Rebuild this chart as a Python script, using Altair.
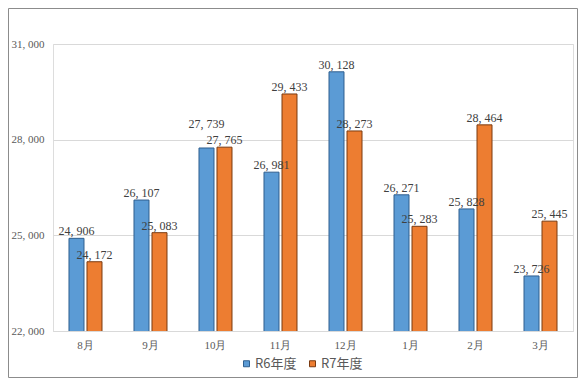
import altair as alt
import pandas as pd

months = ["8月", "9月", "10月", "11月", "12月", "1月", "2月", "3月"]
r6 = [24906, 26107, 27739, 26981, 30128, 26271, 25828, 23726]
r7 = [24172, 25083, 27765, 29433, 28273, 25283, 28464, 25445]
series = ["R6年度", "R7年度"]
y_ticks = [22000, 25000, 28000, 31000]

rows = []
for m, a, b in zip(months, r6, r7):
    rows.append({"month": m, "series": series[0], "value": a})
    rows.append({"month": m, "series": series[1], "value": b})
df = pd.DataFrame(rows)

x_enc = alt.X("month:N", sort=months, title=None,
              scale=alt.Scale(paddingInner=0.4923, paddingOuter=0.246),
              axis=alt.Axis(labelAngle=0, ticks=False, domainColor="#d9d9d9",
                            labelFont="Liberation Serif", labelFontSize=11,
                            labelColor="#595959", labelPadding=8))
xoff = alt.XOffset("series:N", sort=series,
                   scale=alt.Scale(paddingInner=0.167, paddingOuter=0))
y_enc = alt.Y("value:Q", title=None,
              scale=alt.Scale(domain=[22000, 31000], nice=False, zero=False),
              axis=alt.Axis(values=y_ticks, ticks=False, domain=False,
                            gridColor="#d9d9d9", labelFont="Liberation Serif",
                            labelFontSize=11, labelColor="#595959", labelPadding=9,
                            labelExpr="replace(format(datum.value, ','), ',', ', ')"))

color = alt.Color("series:N", sort=series, title=None,
                  scale=alt.Scale(domain=series, range=["#5B9BD5", "#ED7D31"]),
                  legend=alt.Legend(orient="none", direction="horizontal",
                                    legendX=187, legendY=313, symbolType="square",
                                    symbolSize=36, symbolStrokeWidth=1,
                                    labelFont="Noto Sans CJK JP", labelFontSize=13,
                                    labelColor="#595959", labelOffset=2,
                                    columnPadding=9))
stroke = alt.Stroke("series:N", sort=series, legend=None,
                    scale=alt.Scale(domain=series, range=["#2F5F8F", "#7A3A10"]))

bars = alt.Chart(df).mark_bar(strokeWidth=1, clip=True).encode(
    x=x_enc, xOffset=xoff, y=y_enc, color=color, stroke=stroke)

base_lab = alt.Chart(df).transform_joinaggregate(
    vmax="max(value)", vmin="min(value)", groupby=["month"]
).transform_calculate(
    lab="replace(format(datum.value, ','), ',', ', ')",
    raised="datum.series == 'R6年度' && datum.vmax - datum.vmin < 300"
)
enc = dict(x=alt.X("month:N", sort=months),
           xOffset=alt.XOffset("series:N", sort=series),
           y="value:Q", text="lab:N")
lab_style = dict(baseline="middle", font="Liberation Serif", fontSize=12, color="#404040")

labels = base_lab.transform_filter("!datum.raised").mark_text(dy=-7, **lab_style).encode(**enc)
labels_up = base_lab.transform_filter("datum.raised").mark_text(dy=-24, **lab_style).encode(**enc)

frame = alt.Chart(pd.DataFrame({"a": [0]})).mark_rect(
    fill=None, stroke="#8c8c8c", strokeWidth=1).encode(
    x=alt.value(-44.5), x2=alt.value(524.5), y=alt.value(-35.5), y2=alt.value(333.5))

chart = alt.layer(bars, labels, labels_up, frame).properties(
    width=520, height=287,
    autosize=alt.AutoSizeParams(type="none"),
    padding={"left": 45, "top": 36, "right": 5, "bottom": 47},
).configure_view(stroke=None).configure(background="white")

chart.save("out.html", embed_options={"renderer": "svg", "actions": False})
